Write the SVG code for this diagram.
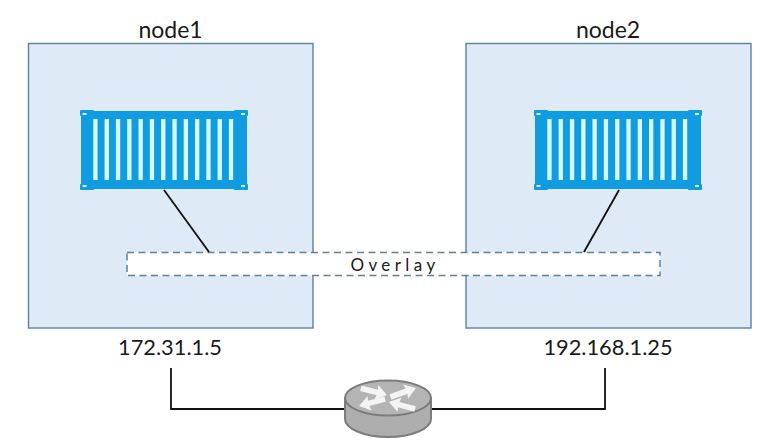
<svg xmlns="http://www.w3.org/2000/svg" width="766" height="448" viewBox="0 0 766 448">
<style>
text{font-family:Lato,"Open Sans","Liberation Sans",sans-serif;fill:#1a1a1a}
.lbl{font-size:23px;text-anchor:middle}
.ip{font-size:21.800px;text-anchor:middle}
.host{fill:#deeaf6;stroke:#5b82a6;stroke-width:1.4}
.c{stroke:#111;stroke-width:1.8;fill:none}
.body{fill:#0f9ce0}
.slat{fill:#d6fbff}
.corner{fill:#d6f0fa}
.arrow{fill:#f4f4f4}
</style>
<defs>
<g id="container">
<rect class="body" x="1" y="1" width="166" height="78"/>
<rect class="body" x="0" y="0" width="14" height="6" rx="1"/><rect class="body" x="154" y="0" width="14" height="6" rx="1"/>
<rect class="body" x="0" y="74" width="14" height="6" rx="1"/><rect class="body" x="154" y="74" width="14" height="6" rx="1"/>
<rect class="corner" x="2.500" y="3" width="4" height="2"/><rect class="corner" x="161" y="3" width="4" height="2"/>
<rect class="corner" x="2.500" y="75" width="4" height="2"/><rect class="corner" x="161" y="75" width="4" height="2"/>
<g class="slat">
<rect x="13.300" y="9" width="4.300" height="61"/><rect x="24.600" y="9" width="4.300" height="61"/><rect x="35.900" y="9" width="4.300" height="61"/><rect x="47.200" y="9" width="4.300" height="61"/><rect x="58.500" y="9" width="4.300" height="61"/><rect x="69.800" y="9" width="4.300" height="61"/><rect x="81.100" y="9" width="4.300" height="61"/><rect x="92.400" y="9" width="4.300" height="61"/><rect x="103.700" y="9" width="4.300" height="61"/><rect x="115" y="9" width="4.300" height="61"/><rect x="126.300" y="9" width="4.300" height="61"/><rect x="137.600" y="9" width="4.300" height="61"/><rect x="148.900" y="9" width="4.300" height="61"/>
</g>
</g>
<path id="arr" class="arrow" d="M0 0L-11 -7.500L-10 -2.800L-27 -2.800L-27 2.800L-10 2.800L-11 7.500Z"/>
</defs>
<rect width="766" height="448" fill="#fff"/>
<g id="node1">
<rect class="host" x="28.500" y="43.500" width="284.500" height="284.500"/>
<text class="lbl" x="170.500" y="38">node1</text>
<use href="#container" x="80" y="110"/>
<text class="ip" x="170" y="355">172.31.1.5</text>
</g>
<g id="node2">
<rect class="host" x="466" y="43.500" width="285" height="284.500"/>
<text class="lbl" x="608" y="38">node2</text>
<use href="#container" x="534" y="110"/>
<text class="ip" x="608" y="355">192.168.1.25</text>
</g>
<g id="overlay">
<rect x="127" y="252.500" width="533" height="23" fill="#fff" stroke="#5f8199" stroke-width="1.5" stroke-dasharray="7 4.500"/>
<text x="395" y="271" font-size="17" text-anchor="middle" letter-spacing="4.400">Overlay</text>
</g>
<g id="connectors">
<path class="c" d="M164 190L209 252"/>
<path class="c" d="M619 190L584 252"/>
<path class="c" d="M171 368V409H345"/>
<path class="c" d="M605 368V409H431"/>
</g>
<g id="router">
<path d="M345 398V419C345 429 365 437 388 437C411 437 431 429 431 419V398Z" fill="#aeaeae" stroke="#7c7c7c" stroke-width="2"/>
<ellipse cx="388" cy="398" rx="43" ry="17.500" fill="#b4b4b4" stroke="#7c7c7c" stroke-width="2"/>
<use href="#arr" transform="translate(387 395) rotate(14.600)"/>
<use href="#arr" transform="translate(416 388) rotate(-19)"/>
<use href="#arr" transform="translate(359 406) rotate(165)"/>
<use href="#arr" transform="translate(389 402) rotate(195)"/>
</g>
</svg>
